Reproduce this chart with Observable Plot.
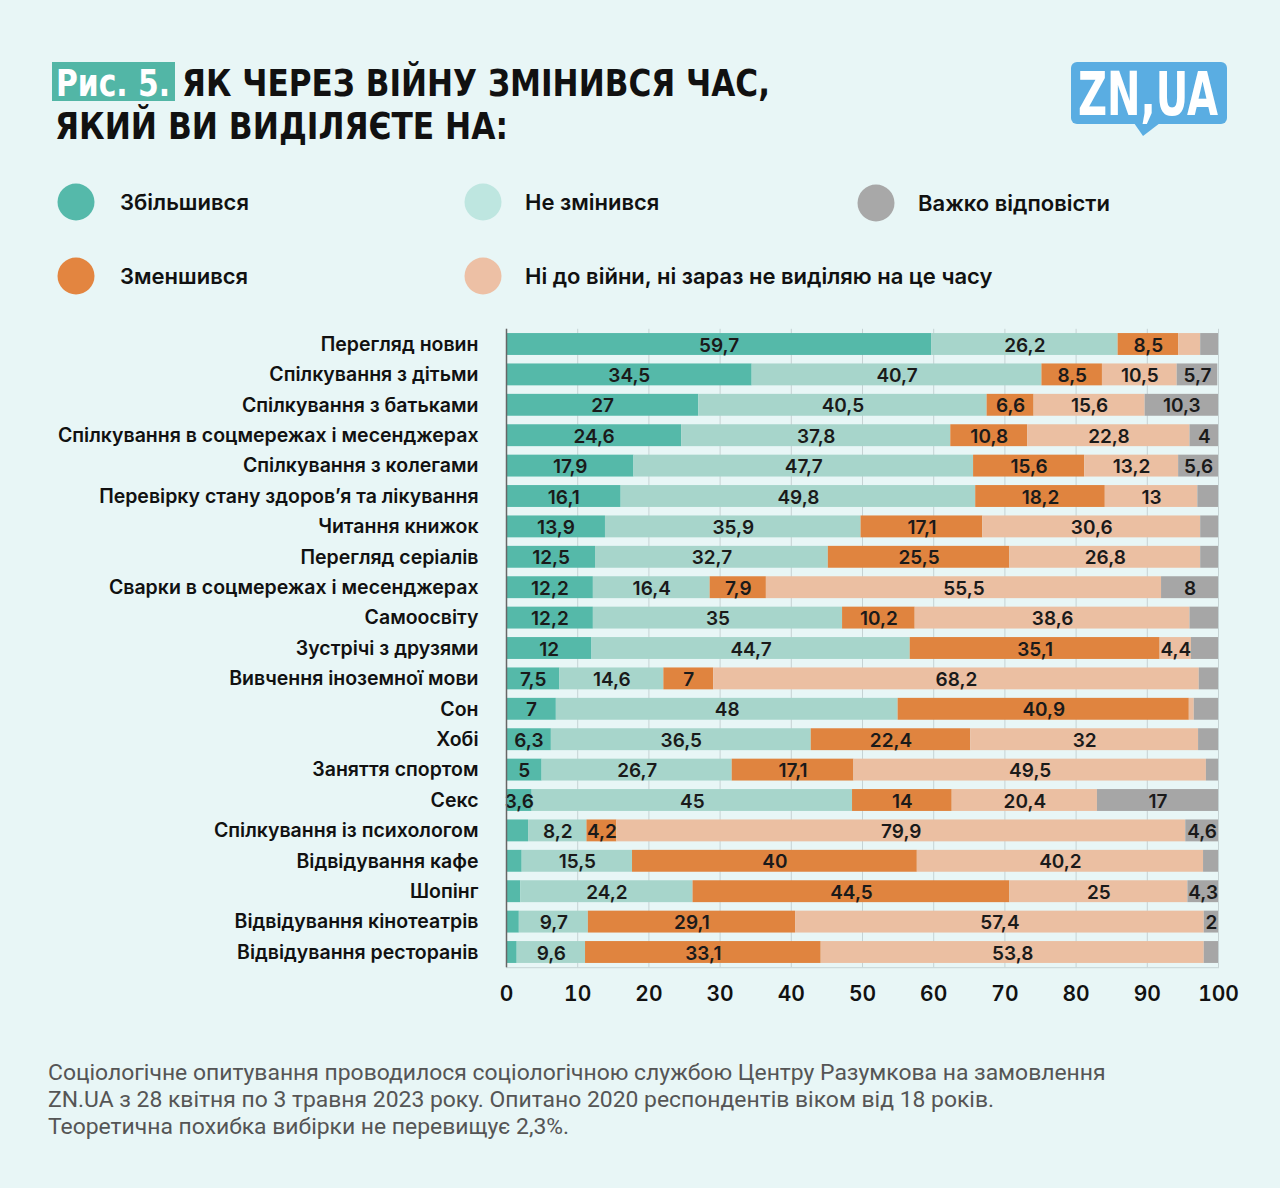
<!DOCTYPE html>
<html>
<head>
<meta charset="utf-8">
<script src="https://cdn.jsdelivr.net/npm/d3@7"></script>
<script src="https://cdn.jsdelivr.net/npm/@observablehq/plot@0.6"></script>
<style>
  html, body { margin: 0; padding: 0; }
  body { width: 1280px; height: 1188px; background: #e8f6f6; position: relative; overflow: hidden; font-family: Inter, "Noto Sans", sans-serif; }
  #header { position: absolute; left: 0; top: 0; }
  #chart { position: absolute; left: 0; top: 320px; }
  #caption { position: absolute; left: 48px; top: 1059px; font-family: Roboto, "Noto Sans", sans-serif; font-size: 22.9px; line-height: 27px; color: #555; white-space: nowrap; }
</style>
</head>
<body>
<svg id="header" width="1280" height="320"></svg>
<div id="chart"></div>
<div id="caption">Соціологічне опитування проводилося соціологічною службою Центру Разумкова на замовлення<br>ZN.UA з 28 квітня по 3 травня 2023 року. Опитано 2020 респондентів віком від 18 років.<br>Теоретична похибка вибірки не перевищує 2,3%.</div>
<script>
// ---------- DATA ----------
const categories = [
  "Перегляд новин",
  "Спілкування з дітьми",
  "Спілкування з батьками",
  "Спілкування в соцмережах і месенджерах",
  "Спілкування з колегами",
  "Перевірку стану здоров’я та лікування",
  "Читання книжок",
  "Перегляд серіалів",
  "Сварки в соцмережах і месенджерах",
  "Самоосвіту",
  "Зустрічі з друзями",
  "Вивчення іноземної мови",
  "Сон",
  "Хобі",
  "Заняття спортом",
  "Секс",
  "Спілкування із психологом",
  "Відвідування кафе",
  "Шопінг",
  "Відвідування кінотеатрів",
  "Відвідування ресторанів"
];
const seriesNames = ["Збільшився", "Не змінився", "Зменшився", "Ні до війни, ні зараз не виділяю на це часу", "Важко відповісти"];
const increased   = [59.7, 34.5, 27, 24.6, 17.9, 16.1, 13.9, 12.5, 12.2, 12.2, 12, 7.5, 7, 6.3, 5, 3.6, 3.1, 2.2, 2.0, 1.8, 1.5];
const unchanged   = [26.2, 40.7, 40.5, 37.8, 47.7, 49.8, 35.9, 32.7, 16.4, 35, 44.7, 14.6, 48, 36.5, 26.7, 45, 8.2, 15.5, 24.2, 9.7, 9.6];
const decreased   = [8.5, 8.5, 6.6, 10.8, 15.6, 18.2, 17.1, 25.5, 7.9, 10.2, 35.1, 7, 40.9, 22.4, 17.1, 14, 4.2, 40, 44.5, 29.1, 33.1];
const neverSpend  = [3.1, 10.5, 15.6, 22.8, 13.2, 13, 30.6, 26.8, 55.5, 38.6, 4.4, 68.2, 0.7, 32, 49.5, 20.4, 79.9, 40.2, 25, 57.4, 53.8];
const hardToSay   = [2.5, 5.7, 10.3, 4, 5.6, 2.9, 2.5, 2.5, 8, 4, 3.8, 2.7, 3.4, 2.8, 1.7, 17, 4.6, 2.1, 4.3, 2, 2.0];
// segments drawn without a printed value: [row index, series index]
const unlabeled = [[0,3],[0,4],[5,4],[6,4],[7,4],[9,4],[10,4],[11,4],[12,3],[12,4],[13,4],[14,4],[16,0],[17,0],[17,4],[18,0],[19,0],[20,0],[20,4]];
const xTicks = [0, 10, 20, 30, 40, 50, 60, 70, 80, 90, 100];

const barColors = ["#55b9a9", "#a7d5cb", "#e0843f", "#ebbfa2", "#a6a6a6"];
const legendColors = ["#55b9aa", "#bee6e0", "#a8a8a8", "#e38540", "#edc0a5"];

// ---------- HEADER ----------
const NS = "http://www.w3.org/2000/svg";
const hdr = document.getElementById("header");
function el(name, attrs, text) {
  const e = document.createElementNS(NS, name);
  for (const k in attrs) e.setAttribute(k, attrs[k]);
  if (text != null) e.textContent = text;
  hdr.appendChild(e);
  return e;
}
const titleFont = '"Liberation Sans Narrow", "DejaVu Sans Condensed", "Liberation Sans", sans-serif';
el("rect", {x: 52, y: 62, width: 123, height: 39, fill: "#52b6a6"});
el("text", {x: 56, y: 96, "font-family": titleFont, "font-weight": 700, "font-size": 38, fill: "#fff", textLength: 114, lengthAdjust: "spacingAndGlyphs"}, "Рис. 5.");
el("text", {x: 182, y: 96, "font-family": titleFont, "font-weight": 700, "font-size": 38, fill: "#111", textLength: 588, lengthAdjust: "spacingAndGlyphs"}, "ЯК ЧЕРЕЗ ВІЙНУ ЗМІНИВСЯ ЧАС,");
el("text", {x: 55, y: 139, "font-family": titleFont, "font-weight": 700, "font-size": 38, fill: "#111", textLength: 453, lengthAdjust: "spacingAndGlyphs"}, "ЯКИЙ ВИ ВИДІЛЯЄТЕ НА:");
// logo
el("rect", {x: 1071, y: 62, width: 156, height: 62, rx: 6, fill: "#5aade2"});
el("polygon", {points: "1134,123 1160,123 1143,136", fill: "#5aade2"});
el("text", {x: 1078, y: 115, "font-family": titleFont, "font-weight": 700, "font-size": 60, fill: "#fff", textLength: 140, lengthAdjust: "spacingAndGlyphs"}, "ZN,UA");
// legend
const legendItems = [
  {name: seriesNames[0], color: legendColors[0], cx: 76, cy: 202, tx: 120},
  {name: seriesNames[1], color: legendColors[1], cx: 483, cy: 202, tx: 525},
  {name: seriesNames[4], color: legendColors[2], cx: 876, cy: 203, tx: 918},
  {name: seriesNames[2], color: legendColors[3], cx: 76, cy: 276, tx: 120},
  {name: seriesNames[3], color: legendColors[4], cx: 483, cy: 276, tx: 525}
];
for (const it of legendItems) {
  el("circle", {cx: it.cx, cy: it.cy, r: 18.5, fill: it.color});
  el("text", {x: it.tx, y: it.cy, dy: "0.35em", "font-family": "Inter, sans-serif", "font-weight": 600, "font-size": 22, fill: "#111"}, it.name);
}

// ---------- CHART DATA TABLE ----------
const seriesValues = [increased, unchanged, decreased, neverSpend, hardToSay];
const hiddenSet = new Set(unlabeled.map(([r, s]) => r + ":" + s));
const fmt = v => String(v).replace(".", ",");
const data = [];
categories.forEach((cat, i) => {
  seriesNames.forEach((s, j) => {
    const v = seriesValues[j][i];
    data.push({cat, series: s, value: v, label: hiddenSet.has(i + ":" + j) ? "" : fmt(v)});
  });
});

// ---------- PLOT ----------
const chart = Plot.plot({
  width: 1280,
  height: 700,
  marginLeft: 506,
  marginRight: 62,
  marginTop: 8.8,
  marginBottom: 52.8,
  style: {background: "transparent", fontFamily: "Inter, sans-serif", color: "#111"},
  x: {domain: [0, 100], ticks: xTicks, tickSize: 0, tickPadding: 18, label: null, tickFormat: d => d},
  y: {domain: categories, paddingInner: 0.28, paddingOuter: 0.14, round: false, tickSize: 0, tickPadding: 28, label: null},
  color: {domain: seriesNames, range: barColors},
  marks: [
    Plot.gridX(xTicks, {stroke: "#c6d3d4", strokeOpacity: 1, strokeWidth: 1}),
    Plot.frame({anchor: "bottom", stroke: "#c6d3d4"}),
    Plot.barX(data, Plot.stackX({x: "value", y: "cat", fill: "series", order: seriesNames})),
    Plot.textX(data, Plot.stackX({x: "value", y: "cat", z: "series", order: seriesNames, text: "label", fill: "#1a1a1a", fontSize: 19, fontWeight: 600, dy: 1})),
    Plot.ruleX([0], {stroke: "#666", strokeWidth: 1.5}),
    Plot.axisY({tickSize: 0, tickPadding: 28, fontSize: 19.5, fontWeight: 600, label: null}),
    Plot.axisX({ticks: xTicks, tickSize: 0, tickPadding: 18, fontSize: 21, fontWeight: 600, label: null})
  ]
});
document.getElementById("chart").appendChild(chart);
</script>
</body>
</html>
